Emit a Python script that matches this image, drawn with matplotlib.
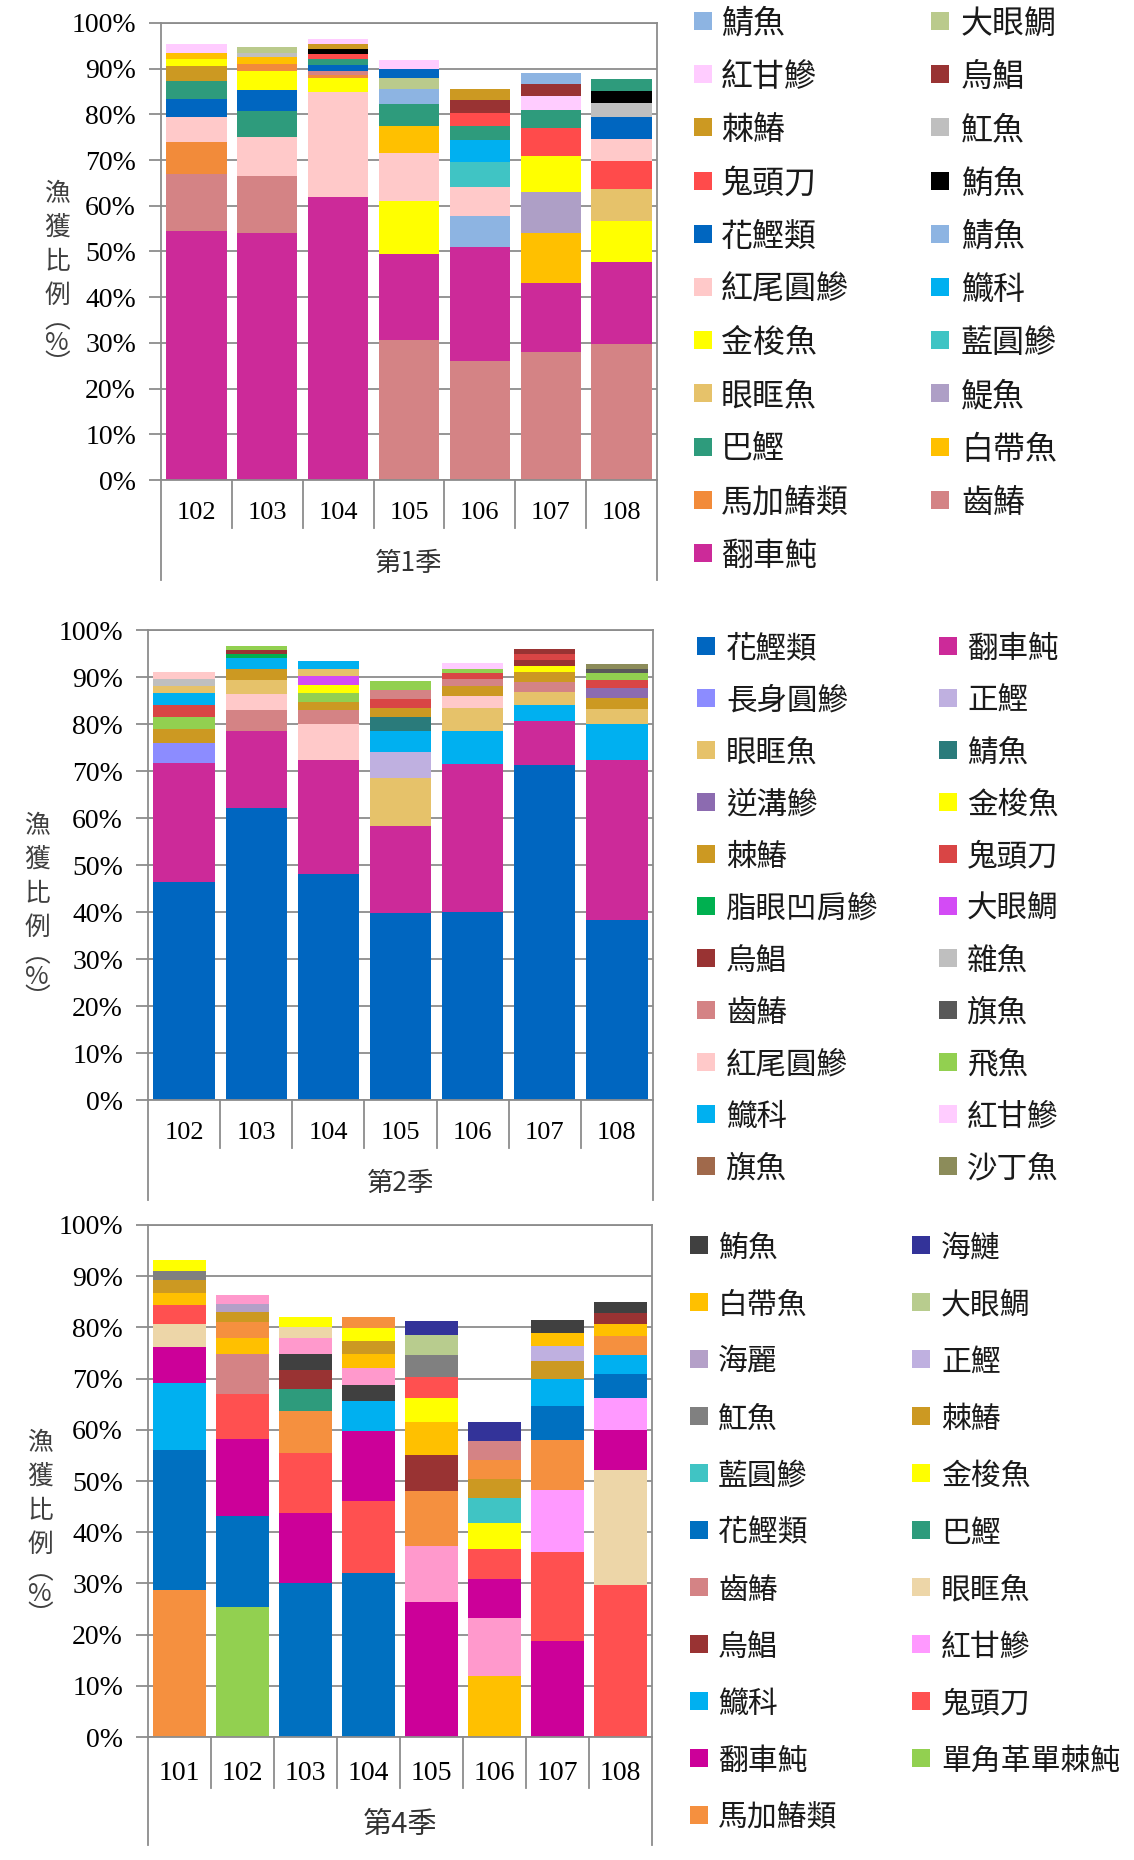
#!/usr/bin/env python
#
#   catch composition (%) by year, three seasons, stacked bars
#
import matplotlib
matplotlib.use('agg')
import matplotlib.pyplot as plt
from matplotlib.patches import Rectangle

plt.rcParams['font.family'] = ['Liberation Serif', 'Noto Sans CJK TC']
CJK = ['Noto Sans CJK TC', 'DejaVu Sans']
SERIF = ['Liberation Serif', 'Noto Sans CJK TC']

# ---------------- season 1 ----------------
q1_years = ['102', '103', '104', '105', '106', '107', '108']
q1_species = [
    ['翻車魨', '齒鰆', '馬加鰆類', '紅尾圓鰺', '花鰹類', '巴鰹', '棘鰆', '金梭魚', '白帶魚', '紅甘鰺'],
    ['翻車魨', '齒鰆', '紅尾圓鰺', '巴鰹', '花鰹類', '金梭魚', '馬加鰆類', '白帶魚', '魟魚', '大眼鯛'],
    ['翻車魨', '紅尾圓鰺', '金梭魚', '馬加鰆類', '齒鰆', '花鰹類', '巴鰹', '鬼頭刀', '鮪魚', '棘鰆', '紅甘鰺'],
    ['齒鰆', '翻車魨', '金梭魚', '紅尾圓鰺', '白帶魚', '巴鰹', '鯖魚', '大眼鯛', '花鰹類', '紅甘鰺'],
    ['齒鰆', '翻車魨', '鯖魚', '紅尾圓鰺', '藍圓鰺', '鱵科', '巴鰹', '鬼頭刀', '烏鯧', '棘鰆'],
    ['齒鰆', '翻車魨', '白帶魚', '鯷魚', '金梭魚', '鬼頭刀', '巴鰹', '紅甘鰺', '烏鯧', '鯖魚'],
    ['齒鰆', '翻車魨', '金梭魚', '眼眶魚', '鬼頭刀', '紅尾圓鰺', '花鰹類', '魟魚', '鮪魚', '巴鰹'],
]
q1_pct = [
    [54.5, 12.4, 7.0, 5.5, 4.0, 3.9, 3.2, 1.6, 1.3, 1.9],
    [54.0, 12.5, 8.5, 5.7, 4.6, 4.1, 1.7, 1.5, 0.8, 1.3],
    [61.9, 23.0, 3.1, 0.6, 0.9, 1.3, 1.3, 1.2, 1.0, 1.1, 1.1],
    [30.6, 18.9, 11.5, 10.5, 5.9, 4.9, 3.3, 2.4, 2.0, 2.0],
    [26.0, 25.0, 6.7, 6.5, 5.4, 4.9, 2.9, 2.9, 2.8, 2.5],
    [28.0, 15.1, 10.9, 9.0, 7.9, 6.2, 3.8, 3.2, 2.5, 2.5],
    [29.8, 18.0, 8.8, 7.0, 6.3, 4.8, 4.7, 3.1, 2.6, 2.6],
]
q1_legend_left = ['鯖魚', '紅甘鰺', '棘鰆', '鬼頭刀', '花鰹類', '紅尾圓鰺', '金梭魚', '眼眶魚', '巴鰹', '馬加鰆類', '翻車魨']
q1_legend_right = ['大眼鯛', '烏鯧', '魟魚', '鮪魚', '鯖魚', '鱵科', '藍圓鰺', '鯷魚', '白帶魚', '齒鰆']
q1_colors_left = ['#8DB4E2', '#FFCCFF', '#CC9922', '#FF4B4B', '#0066C0', '#FFC9C9', '#FFFF00', '#E6C26A', '#2E9B7C', '#F28B3A', '#CC2A99']
q1_colors_right = ['#BACA8C', '#993333', '#BFBFBF', '#000000', '#8DB4E2', '#00B0F0', '#40C4C4', '#AE9FC6', '#FFC000', '#D48385']

# ---------------- season 2 ----------------
q2_years = ['102', '103', '104', '105', '106', '107', '108']
q2_species = [
    ['花鰹類', '翻車魨', '長身圓鰺', '棘鰆', '飛魚', '鬼頭刀', '鱵科', '眼眶魚', '雜魚', '紅尾圓鰺'],
    ['花鰹類', '翻車魨', '齒鰆', '紅尾圓鰺', '眼眶魚', '棘鰆', '鱵科', '脂眼凹肩鰺', '烏鯧', '飛魚'],
    ['花鰹類', '翻車魨', '紅尾圓鰺', '齒鰆', '棘鰆', '飛魚', '金梭魚', '大眼鯛', '眼眶魚', '鱵科'],
    ['花鰹類', '翻車魨', '眼眶魚', '正鰹', '鱵科', '鯖魚', '棘鰆', '鬼頭刀', '齒鰆', '飛魚'],
    ['花鰹類', '翻車魨', '鱵科', '眼眶魚', '紅尾圓鰺', '棘鰆', '齒鰆', '鬼頭刀', '飛魚', '紅甘鰺'],
    ['花鰹類', '翻車魨', '鱵科', '眼眶魚', '齒鰆', '棘鰆', '金梭魚', '烏鯧', '鬼頭刀', '烏鯧'],
    ['花鰹類', '翻車魨', '鱵科', '眼眶魚', '棘鰆', '逆溝鰺', '鬼頭刀', '飛魚', '旗魚', '沙丁魚'],
]
q2_pct = [
    [46.3, 25.3, 4.4, 2.9, 2.6, 2.5, 2.5, 1.6, 1.4, 1.5],
    [62.2, 16.3, 4.4, 3.5, 2.9, 2.5, 2.3, 0.9, 0.7, 0.9],
    [48.0, 24.4, 7.7, 2.8, 1.8, 1.8, 1.8, 1.9, 1.4, 1.8],
    [39.7, 18.7, 10.2, 5.5, 4.4, 3.0, 2.0, 1.9, 1.9, 1.8],
    [40.0, 31.4, 7.1, 4.8, 2.6, 2.2, 1.4, 1.3, 1.0, 1.2],
    [71.2, 9.5, 3.3, 2.9, 2.1, 2.1, 1.3, 1.2, 1.4, 0.9],
    [38.3, 34.1, 7.7, 3.1, 2.4, 2.0, 1.7, 1.5, 0.8, 1.1],
]
q2_legend_left = ['花鰹類', '長身圓鰺', '眼眶魚', '逆溝鰺', '棘鰆', '脂眼凹肩鰺', '烏鯧', '齒鰆', '紅尾圓鰺', '鱵科', '旗魚']
q2_legend_right = ['翻車魨', '正鰹', '鯖魚', '金梭魚', '鬼頭刀', '大眼鯛', '雜魚', '旗魚', '飛魚', '紅甘鰺', '沙丁魚']
q2_colors_left = ['#0066C0', '#8C8CFF', '#E6C26A', '#8C6BB0', '#CC9922', '#00B050', '#993333', '#D48385', '#FFC9C9', '#00B0F0', '#A0694B']
q2_colors_right = ['#CC2A99', '#BFB0E0', '#2A7B7B', '#FFFF00', '#D94545', '#D34BF5', '#BFBFBF', '#595959', '#92D050', '#FFCCFF', '#8C8C5A']

# ---------------- season 4 ----------------
q4_years = ['101', '102', '103', '104', '105', '106', '107', '108']
q4_species = [
    ['馬加鰆類', '花鰹類', '鱵科', '翻車魨', '眼眶魚', '鬼頭刀', '白帶魚', '棘鰆', '魟魚', '金梭魚'],
    ['單角革單棘魨', '花鰹類', '翻車魨', '鬼頭刀', '齒鰆', '白帶魚', '馬加鰆類', '棘鰆', '海麗', '其他'],
    ['花鰹類', '翻車魨', '鬼頭刀', '馬加鰆類', '巴鰹', '烏鯧', '鮪魚', '其他', '眼眶魚', '金梭魚'],
    ['花鰹類', '鬼頭刀', '翻車魨', '鱵科', '鮪魚', '其他', '白帶魚', '棘鰆', '金梭魚', '馬加鰆類'],
    ['翻車魨', '其他', '馬加鰆類', '烏鯧', '白帶魚', '金梭魚', '鬼頭刀', '魟魚', '大眼鯛', '海鰱'],
    ['白帶魚', '其他', '翻車魨', '鬼頭刀', '金梭魚', '藍圓鰺', '棘鰆', '馬加鰆類', '齒鰆', '海鰱'],
    ['翻車魨', '鬼頭刀', '紅甘鰺', '馬加鰆類', '花鰹類', '鱵科', '棘鰆', '正鰹', '白帶魚', '鮪魚'],
    ['鬼頭刀', '眼眶魚', '翻車魨', '紅甘鰺', '花鰹類', '鱵科', '馬加鰆類', '白帶魚', '烏鯧', '鮪魚'],
]
q4_pct = [
    [28.7, 27.4, 13.1, 6.9, 4.6, 3.7, 2.3, 2.5, 1.8, 2.1],
    [25.4, 17.7, 15.1, 8.8, 7.8, 3.1, 3.1, 2.0, 1.6, 1.8],
    [30.1, 13.6, 11.8, 8.1, 4.3, 3.7, 3.2, 3.1, 2.1, 2.1],
    [32.1, 13.9, 13.7, 5.9, 3.2, 3.3, 2.7, 2.6, 2.5, 2.2],
    [26.4, 11.0, 10.6, 7.0, 6.6, 4.6, 4.2, 4.2, 3.9, 2.7],
    [11.9, 11.3, 7.6, 5.9, 5.0, 4.9, 3.8, 3.7, 3.7, 3.8],
    [18.7, 17.4, 12.1, 9.8, 6.7, 5.2, 3.6, 2.9, 2.5, 2.6],
    [29.6, 22.6, 7.8, 6.2, 4.7, 3.8, 3.6, 2.4, 2.1, 2.1],
]
q4_legend_left = ['鮪魚', '白帶魚', '海麗', '魟魚', '藍圓鰺', '花鰹類', '齒鰆', '烏鯧', '鱵科', '翻車魨', '馬加鰆類']
q4_legend_right = ['海鰱', '大眼鯛', '正鰹', '棘鰆', '金梭魚', '巴鰹', '眼眶魚', '紅甘鰺', '鬼頭刀', '單角革單棘魨']
q4_colors_left = ['#404040', '#FFC000', '#B4A0C8', '#808080', '#40C4C4', '#0070C0', '#D48385', '#993333', '#00B0F0', '#CC0099', '#F5903F']
q4_colors_right = ['#333399', '#B8CC8E', '#BFB0E0', '#CC9922', '#FFFF00', '#2E9B7C', '#EDD6A8', '#FF99FF', '#FF5050', '#92D050']
q4_extra = {'其他': '#FF99CC'}   # shade seen in bars but not in legend

W, H = 1134, 1860
GRID = '#8C8C8C'

fig = plt.figure(figsize=(W / 100, H / 100), dpi=100)


def fx(x):
    return x / W


def fy(y):
    return 1 - y / H


def draw_panel(box, years, species, pct, colors, season, fonts, offs):
    l, t, r, b = box
    tick_fs, year_fs, season_fs = fonts
    year_off, sep_len, season_off, outer_len = offs
    ax = fig.add_axes([fx(l), fy(b), (r - l) / W, (b - t) / H])
    n = len(years)
    for i in range(n):
        bottom = 0
        for name, v in zip(species[i], pct[i]):
            ax.bar(i, v, 0.85, bottom=bottom, color=colors[name], linewidth=0, zorder=2)
            bottom += v
    ax.set_xlim(-0.5, n - 0.5)
    ax.set_ylim(0, 100)
    ax.set_yticks(range(0, 101, 10))
    ax.set_yticklabels([f'{v}%' for v in range(0, 101, 10)], fontsize=tick_fs, family=SERIF)
    ax.tick_params(axis='y', length=9, width=1.3, color=GRID, pad=9)
    ax.set_xticks([])
    ax.yaxis.grid(True, color=GRID, lw=1.3)
    ax.set_axisbelow(True)
    for s in ax.spines.values():
        s.set_color(GRID)
        s.set_linewidth(1.3)
    # category axis (years + season), offsets in pixels below the 0% line
    k = 100 / (b - t)
    for j in range(1, n):
        ax.plot([j - 0.5, j - 0.5], [0, -sep_len * k], color=GRID, lw=1.3, clip_on=False)
    for xe in (-0.5, n - 0.5):
        ax.plot([xe, xe], [0, -outer_len * k], color=GRID, lw=1.3, clip_on=False)
    for i, yr in enumerate(years):
        ax.text(i, -year_off * k, yr, ha='center', va='center', fontsize=year_fs, family=SERIF)
    ax.text((n - 1) / 2, -season_off * k, season, ha='center', va='center', fontsize=season_fs,
            family=CJK, color='#333333')
    return ax


def draw_ylabel(x, y_chars, y_unit):
    fig.text(fx(x), fy(y_chars), '漁\n獲\n比\n例', ha='center', va='center', fontsize=18.5,
             family=CJK, color='#404040', linespacing=1.4)
    fig.text(fx(x), fy(y_unit), '︵\n%\n︶', ha='center', va='center', fontsize=18.5,
             family=CJK, color='#404040', linespacing=0.8)


def draw_legend(left, right, cleft, cright, xs, y0, pitch, fs):
    sw_l, tx_l, sw_r, tx_r = xs
    for names, cols, sx, tx in ((left, cleft, sw_l, tx_l), (right, cright, sw_r, tx_r)):
        for i, (nm, c) in enumerate(zip(names, cols)):
            y = y0 + i * pitch
            fig.add_artist(Rectangle((fx(sx), fy(y + 9)), 18 / W, 18 / H,
                                     transform=fig.transFigure, color=c, lw=0))
            fig.text(fx(tx), fy(y + 3), nm, ha='left', va='center', fontsize=fs,
                     family=CJK, color='#1A1A1A')


# season 1
c1 = dict(zip(q1_legend_left + q1_legend_right, q1_colors_left + q1_colors_right))
draw_panel((161, 23, 657, 480), q1_years, q1_species, q1_pct, c1, '第1季',
           (20, 19, 19), (33, 48, 83, 100))
draw_ylabel(57, 245, 343)
draw_legend(q1_legend_left, q1_legend_right, q1_colors_left, q1_colors_right,
            (694, 721, 931, 961), 21, 53.2, 23)

# season 2
c2 = dict(zip(q2_legend_left + q2_legend_right, q2_colors_left + q2_colors_right))
draw_panel((148, 630, 653, 1100), q2_years, q2_species, q2_pct, c2, '第2季',
           (20, 19, 19), (33, 48, 83, 100))
draw_ylabel(37, 877, 977)
draw_legend(q2_legend_left, q2_legend_right, q2_colors_left, q2_colors_right,
            (697, 726, 939, 967), 646, 52, 22)

# season 4
c4 = dict(zip(q4_legend_left + q4_legend_right, q4_colors_left + q4_colors_right))
c4.update(q4_extra)
draw_panel((148, 1225, 652, 1737), q4_years, q4_species, q4_pct, c4, '第4季',
           (20, 20, 21), (36, 51, 88, 108))
draw_ylabel(40, 1494, 1594)
draw_legend(q4_legend_left, q4_legend_right, q4_colors_left, q4_colors_right,
            (690, 718, 912, 941), 1245, 57, 21.5)

fig.savefig('out.png', dpi=100)
print('Wrote out.png')
